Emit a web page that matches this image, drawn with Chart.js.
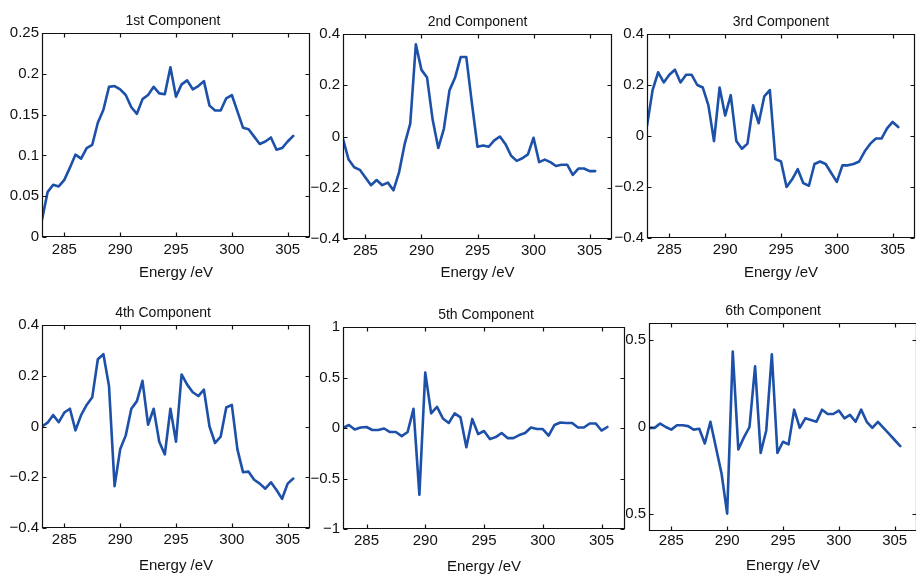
<!DOCTYPE html>
<html>
<head>
<meta charset="utf-8">
<title>Components</title>
<script src="https://cdn.jsdelivr.net/npm/chart.js@4.4.1/dist/chart.umd.min.js"></script>
<style>
  html, body { margin: 0; padding: 0; background: #fff; overflow: hidden; }
  body { width: 916px; height: 575px; position: relative; }
  canvas.panel { position: absolute; }
</style>
</head>
<body>
<script>
// energy axis (eV), one sample every 0.5 eV
const energy = [283, 283.5, 284, 284.5, 285, 285.5, 286, 286.5, 287, 287.5,
  288, 288.5, 289, 289.5, 290, 290.5, 291, 291.5, 292, 292.5,
  293, 293.5, 294, 294.5, 295, 295.5, 296, 296.5, 297, 297.5,
  298, 298.5, 299, 299.5, 300, 300.5, 301, 301.5, 302, 302.5,
  303, 303.5, 304, 304.5, 305, 305.5];

const comp1 = [0.021, 0.055, 0.064, 0.062, 0.070, 0.085, 0.101, 0.096, 0.109, 0.113,
  0.140, 0.156, 0.184, 0.185, 0.181, 0.174, 0.159, 0.151, 0.169, 0.174,
  0.184, 0.176, 0.175, 0.208, 0.172, 0.187, 0.192, 0.181, 0.185, 0.191,
  0.161, 0.155, 0.155, 0.170, 0.174, 0.154, 0.134, 0.132, 0.123, 0.114,
  0.117, 0.122, 0.107, 0.109, 0.117, 0.124];
const comp2 = [-0.01, -0.09, -0.12, -0.13, -0.16, -0.19, -0.17, -0.19, -0.18, -0.21,
  -0.14, -0.03, 0.05, 0.36, 0.26, 0.23, 0.065, -0.045, 0.03, 0.18,
  0.23, 0.31, 0.31, 0.13, -0.04, -0.035, -0.04, -0.015, 0.0, -0.03,
  -0.075, -0.095, -0.085, -0.07, -0.005, -0.1, -0.09, -0.1, -0.115, -0.11,
  -0.11, -0.15, -0.125, -0.125, -0.135, -0.135];
const comp3 = [0.04, 0.18, 0.25, 0.21, 0.24, 0.26, 0.21, 0.24, 0.24, 0.20,
  0.19, 0.12, -0.02, 0.19, 0.08, 0.16, -0.02, -0.05, -0.03, 0.12,
  0.05, 0.155, 0.18, -0.09, -0.10, -0.20, -0.17, -0.13, -0.185, -0.195,
  -0.11, -0.10, -0.11, -0.145, -0.18, -0.115, -0.115, -0.11, -0.10, -0.06,
  -0.03, -0.01, -0.01, 0.03, 0.055, 0.035];
const comp4 = [0.0, 0.015, 0.045, 0.017, 0.055, 0.07, -0.015, 0.045, 0.085, 0.115,
  0.265, 0.285, 0.16, -0.235, -0.09, -0.035, 0.07, 0.10, 0.18, 0.007,
  0.07, -0.06, -0.11, 0.07, -0.06, 0.205, 0.165, 0.135, 0.12, 0.145,
  0.0, -0.065, -0.04, 0.075, 0.085, -0.09, -0.18, -0.178, -0.21, -0.225,
  -0.245, -0.22, -0.25, -0.285, -0.225, -0.205];
const comp5 = [0, 0.03, -0.015, 0.005, 0.01, -0.02, -0.02, -0.005, -0.04, -0.04,
  -0.08, -0.04, 0.19, -0.66, 0.55, 0.145, 0.21, 0.095, 0.05, 0.145,
  0.105, -0.19, 0.09, -0.06, -0.03, -0.11, -0.09, -0.05, -0.1, -0.1,
  -0.07, -0.05, 0.005, -0.01, -0.01, -0.075, 0.03, 0.055, 0.05, 0.05,
  0.005, 0.005, 0.045, 0.045, -0.025, 0.01];
const comp6 = [-0.005, -0.005, 0.02, 0.0, -0.015, 0.01, 0.01, 0.005, -0.015, -0.01,
  -0.095, 0.03, -0.12, -0.27, -0.5, 0.435, -0.13, -0.06, 0.0, 0.35,
  -0.15, -0.02, 0.42, -0.15, -0.085, -0.1, 0.1, -0.005, 0.05, 0.04,
  0.03, 0.1, 0.075, 0.075, 0.095, 0.05, 0.07, 0.03, 0.1, 0.03,
  -0.005, 0.03, -0.005, -0.04, -0.075, -0.11];

const titles = ['1st Component', '2nd Component', '3rd Component',
  '4th Component', '5th Component', '6th Component'];
const xTitle = 'Energy /eV';
const xRange = [283, 307];
const xTicks = [285, 290, 295, 300, 305];
const yTicksA = [0, 0.05, 0.1, 0.15, 0.2, 0.25];
const yTicksB = [-0.4, -0.2, 0, 0.2, 0.4];
const yTicksC = [-1, -0.5, 0, 0.5, 1];
const yTicksD = [-0.5, 0, 0.5];

// axes box of every panel in page pixels (L, R, T, B) + small text offsets
const panels = [
  { values: comp1, yMin: 0, yMax: 0.25, yTicks: yTicksA, L: 42, R: 310, T: 33, B: 237, yW: 40, tickPad: 4, xlPad: 3, titleDx: -3 },
  { values: comp2, yMin: -0.4, yMax: 0.4, yTicks: yTicksB, L: 343, R: 612, T: 34, B: 239, yW: 40, tickPad: 3, xlPad: 5, titleDx: 0 },
  { values: comp3, yMin: -0.4, yMax: 0.4, yTicks: yTicksB, L: 647, R: 915, T: 34, B: 238, yW: 40, tickPad: 3, xlPad: 4, titleDx: 0 },
  { values: comp4, yMin: -0.4, yMax: 0.4, yTicks: yTicksB, L: 42, R: 310, T: 325, B: 528, yW: 40, tickPad: 3, xlPad: 1, titleDx: -13 },
  { values: comp5, yMin: -1, yMax: 1, yTicks: yTicksC, L: 343, R: 625, T: 327, B: 529, yW: 40, tickPad: 3, xlPad: 1, titleDx: 2 },
  { values: comp6, yMin: -0.6, yMax: 0.6, yTicks: yTicksD, L: 649, R: 917, T: 323, B: 531, yW: 23, tickPad: 1, xlPad: 4, titleDx: -10 }
];

const TOP_PAD = 30;
const RIGHT_PAD = 2;
const X_AXIS_H = 48;
const INK = '#111';
const FONT = '"Liberation Sans", Arial, Helvetica, sans-serif';

Chart.defaults.font.family = FONT;
Chart.defaults.color = INK;

const fmt = v => String(v).replace('-', '\u2212');

// MATLAB-like frame: full box, inward ticks on all four sides, title above
const framePlugin = {
  id: 'frame',
  afterDraw(chart, args, opts) {
    const { ctx, chartArea: a, scales: { x, y } } = chart;
    const left = Math.round(a.left) + 0.5, right = Math.round(a.right) - 0.5;
    const top = Math.round(a.top) + 0.5, bottom = Math.round(a.bottom) - 0.5;
    const len = 4;
    ctx.save();
    ctx.strokeStyle = INK;
    ctx.lineWidth = 1.2;
    ctx.beginPath();
    ctx.rect(left, top, right - left, bottom - top);
    x.ticks.forEach(t => {
      const px = Math.round(x.getPixelForValue(t.value)) + 0.5;
      ctx.moveTo(px, bottom); ctx.lineTo(px, bottom - len);
      ctx.moveTo(px, top); ctx.lineTo(px, top + len);
    });
    y.ticks.forEach(t => {
      const py = Math.round(y.getPixelForValue(t.value)) + 0.5;
      ctx.moveTo(left, py); ctx.lineTo(left + len, py);
      ctx.moveTo(right, py); ctx.lineTo(right - len, py);
    });
    ctx.stroke();
    ctx.fillStyle = INK;
    ctx.font = '14px ' + FONT;
    ctx.textAlign = 'center';
    ctx.textBaseline = 'alphabetic';
    ctx.fillText(opts.text, (a.left + a.right) / 2 + opts.dx, a.top - 8);
    ctx.restore();
  }
};

panels.forEach((p, i) => {
  const canvas = document.createElement('canvas');
  canvas.className = 'panel';
  const w = p.yW + (p.R - p.L) + RIGHT_PAD;
  const h = TOP_PAD + (p.B - p.T) + X_AXIS_H;
  canvas.width = w;
  canvas.height = h;
  canvas.style.left = (p.L - p.yW) + 'px';
  canvas.style.top = (p.T - TOP_PAD) + 'px';
  canvas.style.width = w + 'px';
  canvas.style.height = h + 'px';
  document.body.appendChild(canvas);

  new Chart(canvas, {
    type: 'line',
    data: {
      datasets: [{
        data: energy.map((e, k) => ({ x: e, y: p.values[k] })),
        borderColor: '#1d50a8',
        borderWidth: 2.6,
        pointRadius: 0,
        tension: 0,
        borderJoinStyle: 'round',
        borderCapStyle: 'round'
      }]
    },
    plugins: [framePlugin],
    options: {
      responsive: false,
      animation: false,
      devicePixelRatio: 1,
      layout: { padding: { top: TOP_PAD, right: RIGHT_PAD, left: 0, bottom: 0 } },
      plugins: {
        legend: { display: false },
        tooltip: { enabled: false },
        frame: { text: titles[i], dx: p.titleDx }
      },
      scales: {
        x: {
          type: 'linear',
          min: xRange[0],
          max: xRange[1],
          afterBuildTicks: s => { s.ticks = xTicks.map(v => ({ value: v })); },
          afterFit: s => { s.height = X_AXIS_H; },
          grid: { display: false, drawTicks: false },
          border: { display: false },
          ticks: { padding: p.tickPad, autoSkip: false, maxRotation: 0, font: { size: 15 }, callback: v => fmt(v) },
          title: { display: true, text: xTitle, font: { size: 15 }, padding: { top: 0, bottom: p.xlPad } }
        },
        y: {
          type: 'linear',
          min: p.yMin,
          max: p.yMax,
          afterBuildTicks: s => { s.ticks = p.yTicks.map(v => ({ value: v })); },
          afterFit: s => { s.width = p.yW; },
          grid: { display: false, drawTicks: false },
          border: { display: false },
          ticks: { padding: 3, autoSkip: false, font: { size: 15 }, callback: v => fmt(v) }
        }
      }
    }
  });
});
</script>
</body>
</html>
